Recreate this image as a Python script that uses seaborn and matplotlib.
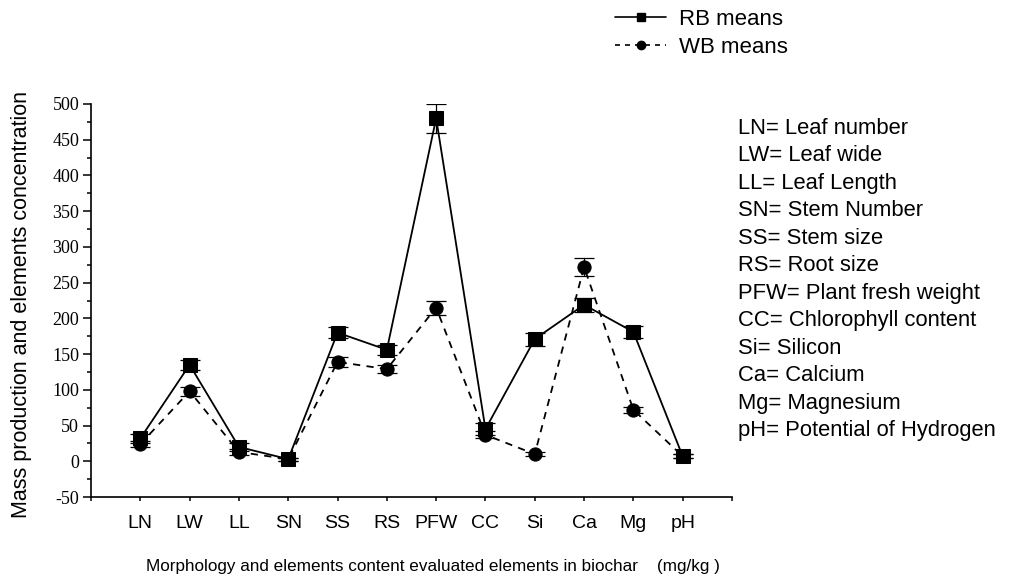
import numpy as np
import pandas as pd
import seaborn as sns
import matplotlib.pyplot as plt
from matplotlib.lines import Line2D
from matplotlib.ticker import MultipleLocator

# values
categories = ['LN', 'LW', 'LL', 'SN', 'SS', 'RS', 'PFW', 'CC', 'Si', 'Ca', 'Mg', 'pH']
rb_means = [32, 135, 20, 3, 180, 156, 480, 45, 171, 219, 181, 7]
rb_err = [6, 7, 5, 2, 8, 7, 20, 8, 9, 10, 9, 3]
wb_means = [24, 98, 13, 3, 139, 129, 215, 37, 10, 272, 72, 7]
wb_err = [4, 6, 4, 2, 7, 6, 10, 5, 3, 13, 4, 3]

legend_notes = [
    'LN= Leaf number', 'LW= Leaf wide', 'LL= Leaf Length', 'SN= Stem Number',
    'SS= Stem size', 'RS= Root size', 'PFW= Plant fresh weight',
    'CC= Chlorophyll content', 'Si= Silicon', 'Ca= Calcium', 'Mg= Magnesium',
    'pH= Potential of Hydrogen',
]

pos = np.arange(1, len(categories) + 1)
df = pd.DataFrame({
    'pos': np.concatenate([pos, pos]),
    'value': rb_means + wb_means,
    'err': rb_err + wb_err,
    'series': ['RB means'] * len(pos) + ['WB means'] * len(pos),
})

sns.set_style('ticks')
plt.rcParams['font.family'] = ['Liberation Sans', 'DejaVu Sans']
plt.rcParams['axes.unicode_minus'] = False
for key in ['text.color', 'axes.labelcolor', 'xtick.color', 'ytick.color', 'axes.edgecolor']:
    plt.rcParams[key] = 'black'

fig = plt.figure(figsize=(10.15, 5.8), dpi=100)
ax = fig.add_axes([91 / 1015, 1 - 497 / 580, (732 - 91) / 1015, (497 - 104) / 580])

sns.lineplot(data=df, x='pos', y='value', style='series',
             markers={'RB means': 's', 'WB means': 'o'},
             dashes={'RB means': '', 'WB means': (4, 3.5)},
             color='black', markersize=9.5, markeredgecolor='black',
             linewidth=1.3, legend=False, ax=ax, zorder=3)

for name, g in df.groupby('series'):
    ax.errorbar(g['pos'], g['value'], yerr=g['err'], fmt='none',
                ecolor='black', elinewidth=0.9, capsize=7, capthick=0.9, zorder=2)

ax.set_xlim(0, 13)
ax.set_ylim(-50, 500)
ax.set_xticks(np.arange(0, 14))
ax.set_xticklabels([''] + categories + [''], fontsize=14)
ax.yaxis.set_major_locator(MultipleLocator(50))
ax.yaxis.set_minor_locator(MultipleLocator(25))
for lab in ax.get_yticklabels():
    lab.set_fontfamily('Liberation Serif')
    lab.set_fontsize(13)
ax.tick_params(axis='x', direction='out', length=3, width=1.1, pad=10)
ax.tick_params(axis='y', which='major', direction='out', length=5.5, width=1.1, pad=3)
ax.tick_params(axis='y', which='minor', direction='out', length=3, width=1.1)

sns.despine(ax=ax)
for side in ['left', 'bottom']:
    ax.spines[side].set_linewidth(1.2)

ax.set_ylabel('Mass production and elements concentration', fontsize=15.5)
ax.yaxis.set_label_coords(-0.092, 0.49)
ax.set_xlabel('Morphology and elements content evaluated elements in biochar    (mg/kg )',
              fontsize=12.3)
ax.xaxis.set_label_coords(0.534, -0.158)

handles = [
    Line2D([], [], color='black', lw=1.2, marker='s', markersize=6, linestyle='-'),
    Line2D([], [], color='black', lw=1.2, marker='o', markersize=6, linestyle=(0, (3, 3))),
]
fig.legend(handles, ['RB means', 'WB means'], loc='upper left',
           bbox_to_anchor=(615 / 1015, 1 - 9 / 580), frameon=False, fontsize=16,
           handlelength=2.3, handletextpad=0.6, labelspacing=0.3,
           borderpad=0, borderaxespad=0)

for i, note in enumerate(legend_notes):
    fig.text(738 / 1015, 1 - (128 + i * 27.5) / 580, note, fontsize=15.8,
             ha='left', va='center')

fig.savefig('out.png', dpi=100)
